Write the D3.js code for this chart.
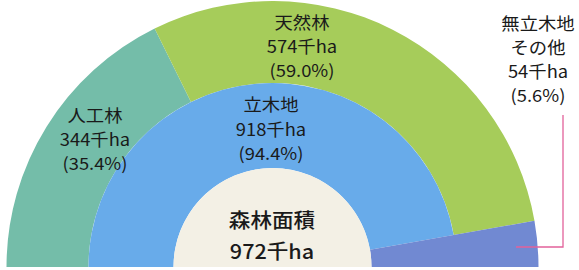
<!DOCTYPE html>
<html>
<head>
<meta charset="utf-8">
<script src="https://cdn.jsdelivr.net/npm/d3@7"></script>
<style>
  body { margin: 0; background: #fff; }
  svg text { font-family: "Noto Sans CJK JP", "Noto Sans", sans-serif; fill: #1a1a1a; }
</style>
</head>
<body>
<div id="chart"></div>
<script>
var width = 579,
    height = 270;

// outer ring: planted / natural / other
var outerNames = ["人工林", "天然林", "無立木地その他"];
var outerValues = [344, 574, 54];
var outerShares = ["35.4%", "59.0%", "5.6%"];

// inner ring: stocked land / other
var innerNames = ["立木地", "無立木地その他"];
var innerValues = [918, 54];
var innerShares = ["94.4%", "5.6%"];

var totalLabel = "森林面積";
var totalValue = 972;
var unit = "千ha";

var cx = 272.5, cy = 267;
var rOuter = 266, rMid = 184, rCore = 99;

var colors = {
    "人工林": "#74bda9",
    "天然林": "#a6cc5a",
    "立木地": "#68abea",
    "無立木地その他": "#7189d2"
};

var svg = d3.select("#chart").append("svg")
    .attr("width", width)
    .attr("height", height);

var g = svg.append("g").attr("transform", "translate(" + cx + "," + cy + ")");

var pie = d3.pie().sort(null)
    .startAngle(-Math.PI / 2)
    .endAngle(Math.PI / 2);

var outerArcs = pie(outerValues);
var innerArcs = pie(innerValues);

var arcOuter = d3.arc().innerRadius(rMid).outerRadius(rOuter);
var arcInner = d3.arc().innerRadius(rCore).outerRadius(rMid);
var arcBoth = d3.arc().innerRadius(rCore).outerRadius(rOuter);

// outer ring (skip the "other" slice, it runs through both rings)
g.selectAll("path.outer")
    .data(outerArcs.filter(function(d, i) { return i < 2; }))
    .enter().append("path")
        .attr("class", "outer")
        .attr("d", arcOuter)
        .attr("fill", function(d, i) { return colors[outerNames[i]]; });

g.append("path")
    .attr("d", arcInner(innerArcs[0]))
    .attr("fill", colors[innerNames[0]]);

g.append("path")
    .attr("d", arcBoth(innerArcs[1]))
    .attr("fill", colors[innerNames[1]]);

// cream core
g.append("path")
    .attr("d", d3.arc().innerRadius(0).outerRadius(rCore)
        .startAngle(-Math.PI / 2).endAngle(Math.PI / 2)())
    .attr("fill", "#f3f0e5");

function label(x, y, lines, size, weight) {
    var t = svg.append("g");
    lines.forEach(function(s, i) {
        t.append("text")
            .attr("transform", "translate(" + x + "," + y[i] + ") scale(1.08,1)")
            .attr("text-anchor", "middle")
            .attr("dy", "0.36em")
            .style("font-size", size + "px")
            .style("font-weight", weight || 400)
            .text(s);
    });
}

label(302, [23, 47, 71], [outerNames[1], outerValues[1] + unit, "(" + outerShares[1] + ")"], 17);
label(95, [116, 140, 164], [outerNames[0], outerValues[0] + unit, "(" + outerShares[0] + ")"], 17);
label(271, [105, 130, 154], [innerNames[0], innerValues[0] + unit, "(" + innerShares[0] + ")"], 17);
label(538, [24, 48, 72, 96], ["無立木地", "その他", outerValues[2] + unit, "(" + outerShares[2] + ")"], 17);
label(272, [221, 252], [totalLabel, totalValue + unit], 20, 500);

// leader line to the "other" slice
svg.append("path")
    .attr("d", "M563,115V247H516")
    .attr("fill", "none")
    .attr("stroke", "#e2629a")
    .attr("stroke-width", 1.3);
</script>
</body>
</html>
